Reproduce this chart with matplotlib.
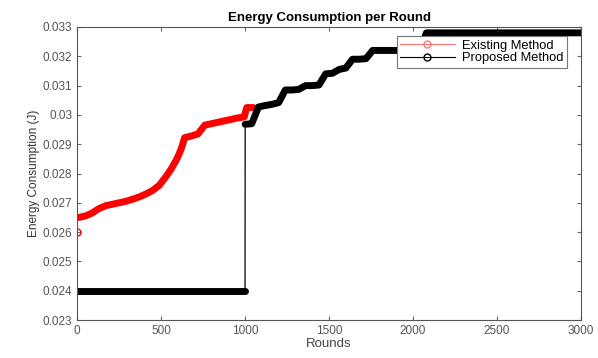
import matplotlib.pyplot as plt
from matplotlib.lines import Line2D
from matplotlib.ticker import FuncFormatter

# Energia por ronda, metodo existente (rojo)
rondas_exist = [0, 10, 50, 90, 130, 170, 210, 250, 290, 330, 370, 410, 450, 490,
                530, 560, 590, 610, 625, 640, 680, 720, 760, 800, 840, 880, 920,
                960, 995, 1010, 1050]
energia_exist = [0.0260, 0.02650, 0.02655, 0.02665, 0.02680, 0.02690, 0.02695,
                 0.02700, 0.02705, 0.02712, 0.02720, 0.02730, 0.02742, 0.02760,
                 0.02790, 0.02815, 0.02845, 0.02870, 0.02892, 0.02922, 0.02928,
                 0.02935, 0.02965, 0.02970, 0.02975, 0.02980, 0.02985, 0.02990,
                 0.02993, 0.03025, 0.03025]

# Energia por ronda, metodo propuesto (negro)
rondas_prop = [0, 40, 80, 120, 160, 200, 240, 280, 320, 360, 400, 440, 480, 520,
               560, 600, 640, 680, 720, 760, 800, 840, 880, 920, 960, 1000,
               1001, 1040, 1080, 1120, 1160, 1200, 1240, 1280, 1320, 1360, 1400,
               1440, 1480, 1520, 1560, 1600, 1640, 1680, 1720, 1760, 1800, 1840,
               1880, 1920, 1960, 2000, 2040, 2080, 2120, 2160, 2200, 2240, 2280,
               2320, 2360, 2400, 2440, 2480, 2520, 2560, 2600, 2640, 2680, 2720,
               2760, 2800, 2840, 2880, 2920, 2960, 3000]
energia_prop = [0.024, 0.024, 0.024, 0.024, 0.024, 0.024, 0.024, 0.024, 0.024,
                0.024, 0.024, 0.024, 0.024, 0.024, 0.024, 0.024, 0.024, 0.024,
                0.024, 0.024, 0.024, 0.024, 0.024, 0.024, 0.024, 0.024,
                0.02968, 0.02970, 0.03027, 0.03032, 0.03036, 0.03042, 0.03085,
                0.03085, 0.03087, 0.03100, 0.03100, 0.03102, 0.03140, 0.03142,
                0.03155, 0.03160, 0.03190, 0.03190, 0.03192, 0.03220, 0.03220,
                0.03220, 0.03220, 0.03220, 0.03220, 0.03220, 0.03220, 0.03280,
                0.03280, 0.03280, 0.03280, 0.03280, 0.03280, 0.03280, 0.03280,
                0.03280, 0.03280, 0.03280, 0.03280, 0.03280, 0.03280, 0.03280,
                0.03280, 0.03280, 0.03280, 0.03280, 0.03280, 0.03280, 0.03280,
                0.03280, 0.03280]

plt.rcParams['font.family'] = ['Liberation Sans', 'DejaVu Sans']

fig = plt.figure(figsize=(5.98, 3.58), dpi=100)
ax = fig.add_axes([0.1288, 0.1061, 0.8428, 0.8185])

# banda gruesa = marcadores superpuestos; el salto en la ronda 1000 va fino
banda = dict(lw=5, solid_capstyle='round', solid_joinstyle='round')

ax.plot(rondas_exist[:1], energia_exist[:1], 'o', color='red', mfc='none',
        ms=5, mew=1)
ax.plot(rondas_exist[1:], energia_exist[1:], color='red', **banda)

ax.plot(rondas_prop, energia_prop, '-', color='black', lw=0.9)
ax.plot(rondas_prop[:26], energia_prop[:26], color='black', **banda)
ax.plot(rondas_prop[26:], energia_prop[26:], color='black', **banda)

ax.set_xlim(0, 3000)
ax.set_ylim(0.023, 0.033)
ax.set_xticks(range(0, 3001, 500))
ax.set_yticks([0.023, 0.024, 0.025, 0.026, 0.027, 0.028, 0.029, 0.030,
               0.031, 0.032, 0.033])
ax.yaxis.set_major_formatter(FuncFormatter(lambda v, p: '%g' % round(v, 4)))
ax.tick_params(direction='in', top=True, right=True, length=3, labelsize=8.5,
               colors='#666666', labelcolor='#555555')
for s in ax.spines.values():
    s.set_color('#555555')
    s.set_linewidth(0.8)

ax.set_title('Energy Consumption per Round', fontsize=9.5, fontweight='bold',
             pad=4)
ax.set_xlabel('Rounds', fontsize=9.5, color='#444444', labelpad=1)
ax.set_ylabel('Energy Consumption (J)', fontsize=8.5, color='#333333',
              labelpad=2)

handles = [Line2D([], [], color='#ff7777', marker='o', mfc='none', ms=5, lw=0.8),
           Line2D([], [], color='black', marker='o', mfc='none', ms=5, lw=0.8)]
leg = ax.legend(handles, ['Existing Method', 'Proposed Method'],
                loc='upper right', bbox_to_anchor=(0.972, 0.968), fontsize=9.3,
                fancybox=False, edgecolor='#777777', framealpha=1,
                borderpad=0.25, labelspacing=0.05, handlelength=4.2,
                handletextpad=0.6, borderaxespad=0)
leg.get_frame().set_linewidth(0.8)

fig.savefig('out.png', dpi=100)
